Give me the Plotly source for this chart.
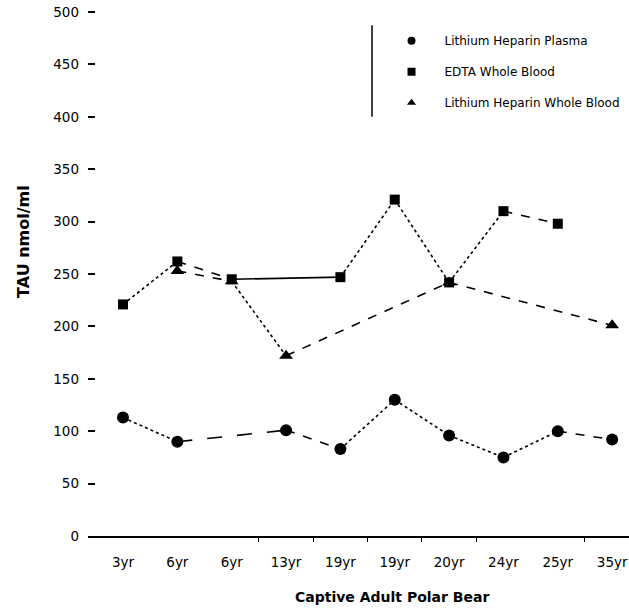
import plotly.graph_objects as go

categories = ["3yr", "6yr", "6yr", "13yr", "19yr", "19yr", "20yr", "24yr", "25yr", "35yr"]
plasma = [113, 90, None, 101, 83, 130, 96, 75, 100, 92]
edta = [221, 262, 245, None, 247, 321, 242, 310, 298, None]
li_wb = [None, 253, 243, 172, None, None, 242, None, None, 201]

series = [
    ("Lithium Heparin Plasma", plasma, "circle", 12,
     ["dot", "longdash", "dash", "dot", "dot", "dot", "dot", "dash"]),
    ("EDTA Whole Blood", edta, "square", 10,
     ["dot", "dash", "solid", "dot", "dot", "dot", "dash"]),
    ("Lithium Heparin Whole Blood", li_wb, "triangle-up", 12,
     ["dash", "dot", "dash", "dash"]),
]

FONT = "DejaVu Sans, Liberation Sans, sans-serif"

fig = go.Figure()
xs = list(range(len(categories)))
for name, vals, sym, msize, dashes in series:
    pts = [(x, v) for x, v in zip(xs, vals) if v is not None]
    for i in range(len(pts) - 1):
        (x0, y0), (x1, y1) = pts[i], pts[i + 1]
        fig.add_trace(go.Scatter(x=[x0, x1], y=[y0, y1], mode="lines",
                                 line=dict(color="black", width=1.6, dash=dashes[i]),
                                 showlegend=False, hoverinfo="skip"))
    fig.add_trace(go.Scatter(x=[p[0] for p in pts], y=[p[1] for p in pts], mode="markers",
                             marker=dict(symbol=sym, size=msize, color="black"),
                             name=name, showlegend=False))
    fig.add_trace(go.Scatter(x=[None], y=[None], mode="markers",
                             marker=dict(symbol=sym, size=8, color="black"),
                             name=name, legendgroup=name, showlegend=True))

fig.update_layout(
    width=629, height=611,
    margin=dict(l=88, r=0, t=0, b=75),
    plot_bgcolor="white", paper_bgcolor="white",
    font=dict(family=FONT, color="black", size=13),
    showlegend=True,
    legend=dict(x=0.537, y=0.951, xanchor="left", yanchor="top",
                font=dict(size=12), tracegroupgap=12, itemwidth=56,
                bgcolor="rgba(0,0,0,0)"),
    xaxis=dict(range=[-0.644, 9.31], tickvals=xs, ticktext=categories,
               automargin=False,
               showgrid=False, zeroline=False, showline=True, linecolor="black",
               linewidth=1.5, ticks="", tickfont=dict(size=13.5),
               ticklabelstandoff=13,
               minor=dict(tickvals=[2.5, 3.5, 4.5, 5.5, 6.5, 8.5], ticks="outside",
                          ticklen=4, tickcolor="black", showgrid=False)),
    yaxis=dict(range=[0, 511.5], tickvals=list(range(0, 501, 50)),
               automargin=False,
               showgrid=False, zeroline=False, showline=False,
               ticks="inside", ticklen=7, tickcolor="black", tickwidth=1.5,
               ticklabelstandoff=8, tickfont=dict(size=13.5)),
    annotations=[
        dict(text="<b>TAU nmol/ml</b>", textangle=-90, xref="paper", yref="paper",
             x=-0.118, y=0.549, xanchor="center", yanchor="middle",
             showarrow=False, font=dict(size=16)),
        dict(text="<b>Captive Adult Polar Bear</b>", xref="paper", yref="paper",
             x=0.562, y=-0.114, xanchor="center", yanchor="middle",
             showarrow=False, font=dict(size=14)),
    ],
    shapes=[
        dict(type="line", xref="paper", yref="paper", x0=0.525, x1=0.525,
             y0=0.782, y1=0.953, line=dict(color="black", width=1.5)),
    ],
)

fig.write_html("out.html", config={"displayModeBar": False},
               post_script="document.body.style.margin='0';")
